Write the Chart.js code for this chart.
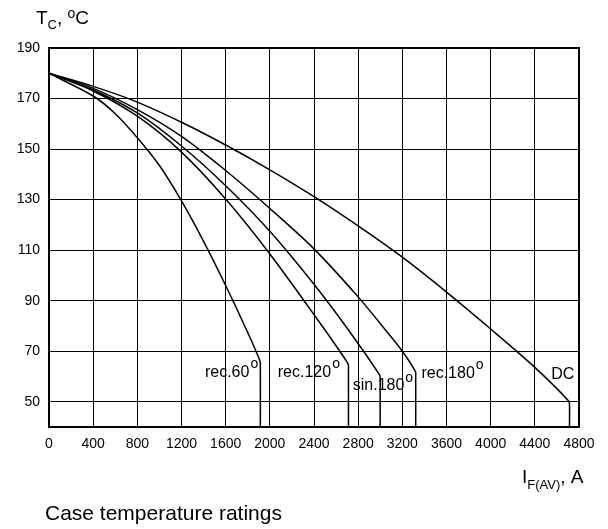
<!DOCTYPE html>
<html>
<head>
<meta charset="utf-8">
<title>Case temperature ratings</title>
<script src="https://cdn.jsdelivr.net/npm/chart.js@4.4.1/dist/chart.umd.min.js"></script>
<style>
  html, body { margin: 0; padding: 0; background: #fff; }
  #wrap { width: 608px; height: 529px; }
</style>
</head>
<body>
<div id="wrap"><canvas id="chart" width="608" height="529"></canvas></div>
<script>
// ============================================================
// Case temperature ratings: T_C vs I_F(AV) for several
// conduction waveforms.
// ============================================================

// --- axis ticks ---
const X_TICKS = [0, 400, 800, 1200, 1600, 2000, 2400, 2800, 3200, 3600, 4000, 4400, 4800];
const Y_TICKS = [50, 70, 90, 110, 130, 150, 170, 190];

// --- curves (current in A, case temperature in °C) ---
const REC60_I = [0, 400, 600, 800, 1000, 1200, 1400, 1600, 1790, 1910, 1914, 1914];
const REC60_T = [180, 171, 164, 154.5, 143.5, 129.5, 113.5, 96, 78.3, 66.2, 64, 40];

const REC120_I = [0, 400, 800, 1200, 1600, 2000, 2400, 2708, 2712, 2712];
const REC120_T = [180, 173, 163, 148.8, 130.2, 108.5, 84.5, 65.1, 63, 40];

const SIN180_I = [0, 400, 800, 1200, 1600, 2000, 2400, 2710, 2995, 2999, 2999];
const SIN180_T = [180, 173.4, 164.3, 151.2, 135.5, 117.5, 96.5, 78.5, 60.5, 58.5, 40];

const REC180_I = [0, 400, 800, 1200, 1600, 2000, 2400, 2800, 3040, 3200, 3318, 3321, 3321];
const REC180_T = [180, 174, 165.6, 155, 141.5, 126.5, 110.5, 91.5, 78.8, 70, 62, 60, 40];

const DC_I = [0, 400, 800, 1200, 1600, 2000, 2400, 2800, 3200, 3600, 4000, 4400, 4708, 4714, 4714];
const DC_T = [180, 174.8, 168.6, 160.6, 151.6, 141.8, 131.2, 119.6, 107.2, 93.4, 78.8, 63.6, 50.2, 48.5, 40];

// --- curve labels: [text, left x in A, baseline T] ---
const CURVE_LABELS = [
  ['rec.60', 1412, 59.7],
  ['rec.120', 2072, 59.7],
  ['sin.180', 2751, 54.5],
  ['rec.180', 3373, 59.3],
  ['DC', 4549, 58.9],
];

const FONT = '"Liberation Sans", Arial, Helvetica, sans-serif';

function toXY(xs, ys) {
  return xs.map((x, i) => ({ x, y: ys[i] }));
}

function curve(xs, ys) {
  return {
    data: toXY(xs, ys),
    borderColor: '#000',
    borderWidth: 1.5,
    pointRadius: 0,
    tension: 0.3,
    fill: false,
  };
}

// draw a string followed by a raised "o" (degree sign as printed in the original)
function drawWithDegree(ctx, text, x, y, size) {
  ctx.font = `${size}px ${FONT}`;
  ctx.fillText(text, x, y);
  const w = ctx.measureText(text).width;
  ctx.font = `${Math.round(size * 0.9)}px ${FONT}`;
  ctx.fillText('o', x + w + 1, y - size * 0.55);
}

const decorPlugin = {
  id: 'decor',
  afterDraw(chart) {
    const { ctx, chartArea: a, scales } = chart;
    ctx.save();

    // heavy frame round the plot area
    ctx.strokeStyle = '#000';
    ctx.lineWidth = 2;
    ctx.strokeRect(a.left, a.top, a.right - a.left, a.bottom - a.top);

    ctx.fillStyle = '#000';
    ctx.textBaseline = 'alphabetic';
    ctx.textAlign = 'left';

    // curve labels
    CURVE_LABELS.forEach(([text, xv, yv]) => {
      const px = scales.x.getPixelForValue(xv);
      const py = scales.y.getPixelForValue(yv);
      if (text === 'DC') {
        ctx.font = `16px ${FONT}`;
        ctx.fillText(text, px, py);
      } else {
        drawWithDegree(ctx, text, px, py, 16);
      }
    });

    // y axis title: T_C, °C
    let x = 36;
    ctx.font = `19px ${FONT}`;
    ctx.fillText('T', x, 24);
    x += ctx.measureText('T').width;
    ctx.font = `13px ${FONT}`;
    ctx.fillText('C', x, 29);
    x += ctx.measureText('C').width;
    ctx.font = `19px ${FONT}`;
    ctx.fillText(', ', x, 24);
    x += ctx.measureText(', ').width;
    ctx.font = `14px ${FONT}`;
    ctx.fillText('o', x, 18);
    x += ctx.measureText('o').width;
    ctx.font = `19px ${FONT}`;
    ctx.fillText('C', x, 24);

    // x axis title: I_F(AV), A
    x = 522;
    ctx.font = `19px ${FONT}`;
    ctx.fillText('I', x, 483);
    x += ctx.measureText('I').width;
    ctx.font = `13px ${FONT}`;
    ctx.fillText('F(AV)', x, 489);
    x += ctx.measureText('F(AV)').width;
    ctx.font = `19px ${FONT}`;
    ctx.fillText(', A', x, 483);

    // caption
    ctx.font = `21px ${FONT}`;
    ctx.fillText('Case temperature ratings', 45, 520);

    ctx.restore();
  },
};

new Chart(document.getElementById('chart'), {
  type: 'line',
  data: {
    datasets: [
      curve(REC60_I, REC60_T),
      curve(REC120_I, REC120_T),
      curve(SIN180_I, SIN180_T),
      curve(REC180_I, REC180_T),
      curve(DC_I, DC_T),
    ],
  },
  options: {
    responsive: false,
    animation: false,
    layout: { padding: { top: 48, right: 29, bottom: 0, left: 0 } },
    plugins: { legend: { display: false }, tooltip: { enabled: false } },
    scales: {
      x: {
        type: 'linear',
        min: 0,
        max: 4800,
        afterFit: (s) => { s.height = 102; },
        afterBuildTicks: (s) => { s.ticks = X_TICKS.map(v => ({ value: v })); },
        grid: { color: '#000', lineWidth: 1, drawTicks: false },
        border: { display: false },
        ticks: {
          autoSkip: false, maxRotation: 0, padding: 9, color: '#000',
          font: { family: FONT, size: 14 },
          callback: (v) => String(v),
        },
      },
      y: {
        type: 'linear',
        min: 40,
        max: 190,
        afterFit: (s) => { s.width = 49; },
        afterBuildTicks: (s) => { s.ticks = Y_TICKS.map(v => ({ value: v })); },
        grid: { color: '#000', lineWidth: 1, drawTicks: false },
        border: { display: false },
        ticks: {
          padding: 9, color: '#000',
          font: { family: FONT, size: 14 },
          callback: (v) => String(v),
        },
      },
    },
  },
  plugins: [decorPlugin],
});
</script>
</body>
</html>
